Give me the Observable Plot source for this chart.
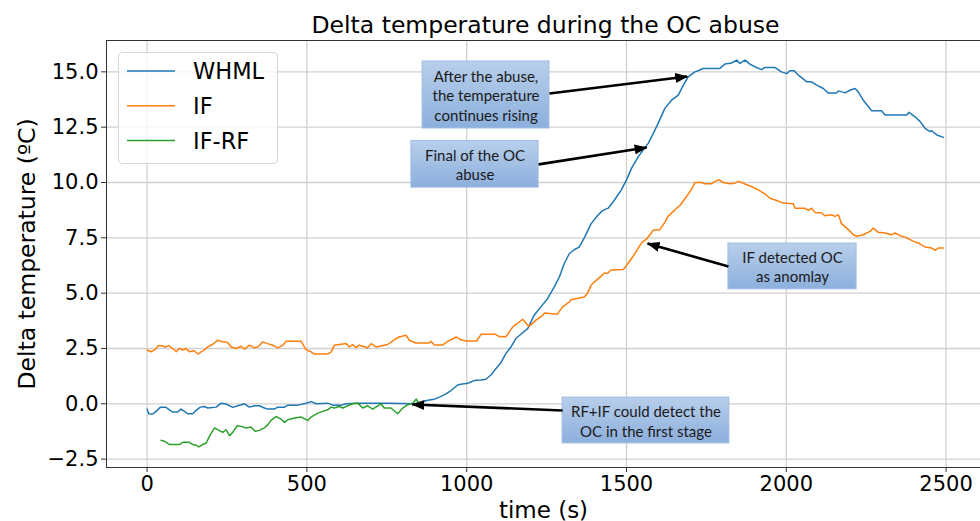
<!DOCTYPE html>
<html>
<head>
<meta charset="utf-8">
<script src="https://cdn.jsdelivr.net/npm/d3@7"></script>
<script src="https://cdn.jsdelivr.net/npm/@observablehq/plot@0.6"></script>
<style>
  html, body { margin: 0; padding: 0; background: white; }
</style>
</head>
<body>
<div id="chart"></div>
<script>
// ---- Data (time in s, delta temperature in ºC) ----
const whml = [
  [0,-0.24],[5,-0.45],[18,-0.46],[28,-0.34],[42,-0.15],[59,-0.16],[70,-0.27],[80,-0.37],[96,-0.37],
  [106,-0.24],[117,-0.34],[127,-0.45],[143,-0.45],[153,-0.30],[167,-0.15],[179,-0.12],[190,-0.19],
  [216,-0.15],[232,0.03],[247,-0.01],[268,-0.16],[284,-0.09],[305,0.00],[320,-0.15],[336,-0.09],
  [351,-0.09],[367,-0.19],[378,-0.24],[398,-0.24],[409,-0.15],[430,-0.15],[440,-0.06],[471,-0.06],
  [492,0.00],[513,0.10],[529,0.00],[565,0.03],[581,-0.06],[607,-0.06],[623,0.00],[649,0.03],
  [700,0.02],[760,0.02],[836,0.00],[857,0.06],[878,0.16],[899,0.21],[915,0.30],[935,0.45],
  [951,0.60],[972,0.85],[982,0.88],[1003,0.93],[1024,1.05],[1045,1.08],[1060,1.11],[1076,1.30],
  [1092,1.60],[1107,1.86],[1123,2.28],[1139,2.58],[1154,2.95],[1175,3.21],[1191,3.40],[1211,4.00],
  [1232,4.38],[1253,4.75],[1274,5.28],[1290,5.73],[1305,6.33],[1321,6.78],[1336,6.96],[1352,7.08],
  [1368,7.50],[1389,8.13],[1409,8.50],[1425,8.73],[1443,8.84],[1463,9.22],[1484,9.67],[1500,10.12],
  [1516,10.65],[1537,11.17],[1552,11.47],[1568,11.77],[1584,12.22],[1599,12.67],[1620,13.35],
  [1641,13.72],[1662,13.95],[1678,14.40],[1693,14.77],[1714,15.00],[1724,15.05],[1740,15.15],
  [1792,15.15],[1808,15.35],[1829,15.40],[1845,15.53],[1855,15.38],[1871,15.53],[1886,15.35],
  [1902,15.23],[1923,15.10],[1933,15.20],[1964,15.20],[1985,15.00],[2001,14.92],[2011,15.05],
  [2025,15.05],[2038,14.85],[2048,14.74],[2064,14.55],[2079,14.55],[2095,14.40],[2116,14.25],
  [2131,14.05],[2158,14.05],[2163,14.14],[2184,14.05],[2199,14.17],[2215,14.25],[2225,14.10],
  [2241,13.72],[2257,13.42],[2267,13.24],[2298,13.24],[2309,13.05],[2377,13.05],[2384,13.17],
  [2403,12.97],[2419,12.75],[2434,12.45],[2450,12.30],[2455,12.34],[2471,12.15],[2492,12.04]
];
const iforest = [
  [0,2.43],[12,2.35],[25,2.45],[35,2.62],[47,2.62],[57,2.57],[68,2.63],[80,2.50],[91,2.35],
  [101,2.50],[112,2.43],[122,2.50],[132,2.35],[146,2.40],[160,2.25],[169,2.35],[179,2.43],
  [190,2.57],[205,2.69],[221,2.87],[237,2.80],[252,2.77],[263,2.57],[278,2.50],[294,2.60],
  [305,2.47],[320,2.65],[336,2.53],[346,2.57],[362,2.80],[377,2.72],[393,2.65],[409,2.53],
  [425,2.65],[435,2.83],[482,2.83],[497,2.45],[513,2.35],[523,2.25],[565,2.25],[576,2.35],
  [586,2.65],[623,2.72],[633,2.57],[643,2.68],[654,2.54],[664,2.65],[690,2.53],[701,2.72],
  [716,2.57],[753,2.68],[774,2.90],[789,3.02],[810,3.10],[821,2.87],[841,2.75],[883,2.75],
  [888,2.83],[899,2.66],[925,2.66],[941,2.82],[967,3.02],[982,2.89],[998,2.84],[1031,2.84],
  [1045,3.14],[1090,3.14],[1102,3.04],[1123,3.03],[1144,3.48],[1159,3.63],[1175,3.82],[1191,3.55],
  [1196,3.51],[1217,3.78],[1238,4.00],[1243,4.10],[1284,4.05],[1300,4.38],[1321,4.60],[1326,4.70],
  [1368,4.83],[1378,5.00],[1389,5.35],[1399,5.50],[1420,5.76],[1430,5.90],[1441,5.90],[1451,6.05],
  [1490,6.07],[1500,6.25],[1521,6.67],[1547,7.27],[1563,7.45],[1584,7.84],[1604,7.87],[1620,8.20],
  [1630,8.47],[1657,8.84],[1667,8.96],[1688,9.37],[1704,9.70],[1714,10.00],[1735,10.00],
  [1745,9.94],[1766,9.94],[1777,10.05],[1789,10.12],[1803,10.00],[1824,9.94],[1839,9.97],
  [1850,10.05],[1860,10.00],[1876,9.90],[1891,9.82],[1912,9.67],[1933,9.49],[1949,9.29],
  [1970,9.19],[1991,9.07],[2022,9.04],[2027,8.84],[2058,8.84],[2069,8.74],[2079,8.84],[2090,8.65],
  [2111,8.62],[2121,8.50],[2142,8.54],[2152,8.47],[2163,8.54],[2173,8.14],[2194,7.87],[2210,7.64],
  [2220,7.57],[2241,7.64],[2262,7.79],[2272,7.94],[2288,7.75],[2309,7.72],[2330,7.64],[2340,7.72],
  [2356,7.60],[2377,7.50],[2398,7.34],[2413,7.27],[2434,7.09],[2455,7.04],[2466,6.94],[2476,7.04],
  [2492,7.04]
];
const ifrf = [
  [44,-1.65],[54,-1.69],[70,-1.84],[101,-1.84],[112,-1.74],[132,-1.74],[143,-1.84],[153,-1.87],
  [162,-1.95],[174,-1.84],[185,-1.77],[195,-1.47],[211,-1.09],[226,-1.21],[237,-1.29],[247,-1.17],
  [258,-1.44],[268,-1.29],[282,-0.99],[294,-1.02],[310,-1.09],[325,-1.05],[338,-1.24],[351,-1.20],
  [367,-1.09],[378,-0.94],[388,-0.75],[404,-0.57],[419,-0.69],[430,-0.84],[440,-0.72],[461,-0.64],
  [482,-0.60],[503,-0.75],[513,-0.60],[534,-0.42],[550,-0.34],[565,-0.27],[576,-0.15],[586,-0.19],
  [602,-0.12],[612,-0.19],[628,-0.09],[643,0.00],[659,0.03],[675,-0.19],[690,-0.09],[706,-0.24],
  [722,-0.09],[732,0.00],[742,-0.19],[763,-0.19],[784,-0.45],[800,-0.19],[816,-0.04],[831,0.03],
  [842,0.21],[847,0.10]
];
const seriesNames = ["WHML", "IF", "IF-RF"];
const seriesColors = ["#1f77b4", "#ff7f0e", "#2ca02c"];
const xTicks = [0, 500, 1000, 1500, 2000, 2500];
const yTicks = [-2.5, 0, 2.5, 5, 7.5, 10, 12.5, 15];
const titleText = "Delta temperature during the OC abuse";
const xLabel = "time (s)";
const yLabel = "Delta temperature (ºC)";

// Annotations (in data units)
const notes = [
  {text: "After the abuse,\nthe temperature\ncontinues rising", x1: 862, x2: 1259, y1: 12.44, y2: 15.47,
   ax1: 1259, ay1: 14.02, ax2: 1690, ay2: 14.79},
  {text: "Final of the OC\nabuse", x1: 827, x2: 1225, y1: 9.77, y2: 11.88,
   ax1: 1225, ay1: 10.82, ax2: 1563, ay2: 11.58},
  {text: "IF detected OC\nas anomlay", x1: 1819, x2: 2220, y1: 5.17, y2: 7.24,
   ax1: 1819, ay1: 6.21, ax2: 1566, ay2: 7.24},
  {text: "RF+IF could detect the\nOC in the first stage", x1: 1300, x2: 1822, y1: -1.79, y2: 0.28,
   ax1: 1300, ay1: -0.30, ax2: 830, ay2: -0.03}
];

const rows = [];
[whml, iforest, ifrf].forEach((s, i) => s.forEach(([t, v]) => rows.push({t, v, name: seriesNames[i]})));

const xDomain = [-127, 2607.7];
const yDomain = [-2.878, 16.417];

const chart = Plot.plot({
  width: 980,
  height: 521,
  marginLeft: 106,
  marginRight: 0,
  marginTop: 40,
  marginBottom: 54,
  style: {fontFamily: "DejaVu Sans", color: "black", background: "white", overflow: "visible"},
  x: {domain: xDomain},
  y: {domain: yDomain},
  color: {domain: seriesNames, range: seriesColors},
  marks: [
    Plot.gridX(xTicks, {stroke: "#d0d0d0", strokeOpacity: 1, strokeWidth: 1.3}),
    Plot.gridY(yTicks, {stroke: "#d0d0d0", strokeOpacity: 1, strokeWidth: 1.3}),
    Plot.ruleX([xDomain[0]], {stroke: "#333", strokeWidth: 1}),
    Plot.ruleY(yDomain, {stroke: "#333", strokeWidth: 1}),
    Plot.axisX(xTicks, {tickSize: 5, tickPadding: 4, fontSize: 21, label: null, tickFormat: d3.format("d"), stroke: "#333"}),
    Plot.axisY(yTicks, {tickSize: 5, tickPadding: 3, fontSize: 21, label: null, tickFormat: d3.format(".1f"), stroke: "#333"}),
    Plot.line(rows, {x: "t", y: "v", stroke: "name", z: "name", strokeWidth: 1.5}),
    Plot.rect(notes, {x1: "x1", x2: "x2", y1: "y1", y2: "y2", fill: "url(#boxGrad)", stroke: "#9fbde4", strokeWidth: 1}),
    Plot.text(notes, {x: d => (d.x1 + d.x2) / 2, y: d => (d.y1 + d.y2) / 2, text: "text",
      fontSize: 15, lineHeight: 1.3, fill: "#1a1a1a", fontFamily: "Lato"}),
    Plot.link(notes, {x1: "ax1", y1: "ay1", x2: "ax2", y2: "ay2", stroke: "black", strokeWidth: 2.6}),
    Plot.text([titleText], {text: d => d, frameAnchor: "top", lineAnchor: "middle", dy: -15, dx: 2, fontSize: 23.5}),
    Plot.text([xLabel], {text: d => d, frameAnchor: "bottom", lineAnchor: "middle", dy: 43, fontSize: 23}),
    Plot.text([yLabel], {text: d => d, frameAnchor: "left", textAnchor: "middle", lineAnchor: "middle", dx: -79, rotate: -90, fontSize: 23.5})
  ]
});

const svg = d3.select(chart);
const defs = svg.insert("defs", ":first-child");
const grad = defs.append("linearGradient")
  .attr("id", "boxGrad").attr("x1", 0).attr("y1", 0).attr("x2", 0).attr("y2", 1);
grad.append("stop").attr("offset", "0%").attr("stop-color", "#b8cfeb");
grad.append("stop").attr("offset", "100%").attr("stop-color", "#8cafdc");
defs.append("marker").attr("id", "headFill")
  .attr("markerUnits", "userSpaceOnUse").attr("markerWidth", 14).attr("markerHeight", 12)
  .attr("viewBox", "0 0 14 12").attr("refX", 12).attr("refY", 6).attr("orient", "auto")
  .append("path").attr("d", "M0,1 L13,6 L0,11 Z").attr("fill", "black");
svg.selectAll('g[aria-label="link"] path').attr("marker-end", "url(#headFill)");

// Legend
const leg = svg.append("g").attr("text-anchor", "start");
leg.append("rect").attr("x", 118.5).attr("y", 52.5).attr("width", 159).attr("height", 111).attr("rx", 4)
  .attr("fill", "white").attr("fill-opacity", 0.8).attr("stroke", "#d6d6d6");
seriesNames.forEach((n, i) => {
  const y = 71 + i * 34.7;
  leg.append("line").attr("x1", 127).attr("x2", 175).attr("y1", y).attr("y2", y)
    .attr("stroke", seriesColors[i]).attr("stroke-width", 1.5);
  leg.append("text").attr("x", 193).attr("y", y).attr("dy", "0.36em").attr("font-size", 22.5)
    .attr("font-family", "DejaVu Sans").attr("fill", "black").attr("text-anchor", "start").text(n);
});

document.getElementById("chart").appendChild(chart);
</script>
</body>
</html>
